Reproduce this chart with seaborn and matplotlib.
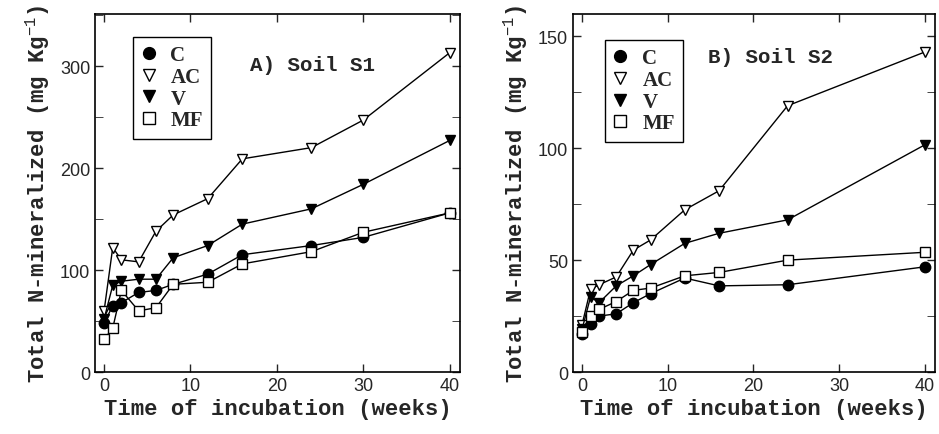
import numpy as np
import pandas as pd
import matplotlib
matplotlib.use('Agg')
import matplotlib.pyplot as plt
from matplotlib.ticker import MultipleLocator
from matplotlib.lines import Line2D
import seaborn as sns

# Data (mg N per kg soil)
weeks_s1 = [0, 1, 2, 4, 6, 8, 12, 16, 24, 30, 40]
s1_C = [48, 65, 68, 78, 80, 86, 96, 115, 124, 132, 156]
s1_AC = [60, 122, 110, 108, 138, 154, 170, 209, 220, 247, 313]
s1_V = [52, 85, 89, 91, 91, 112, 124, 145, 160, 184, 227]
s1_MF = [32, 43, 80, 60, 63, 86, 88, 106, 118, 137, 156]

weeks_s2 = [0, 1, 2, 4, 6, 8, 12, 16, 24, 40]
s2_C = [17, 21.5, 25, 26, 31, 35, 42, 38.5, 39, 47]
s2_AC = [21, 37, 39, 42.5, 54.5, 59, 72.5, 81, 119, 143]
s2_V = [19, 33.5, 31, 38.5, 43, 48, 57.5, 62, 68, 101.5]
s2_MF = [18, 25, 28, 31.5, 36.5, 37.5, 43, 44.5, 50, 53.5]

treatments = ["C", "AC", "V", "MF"]
panel_titles = ["A) Soil S1", "B) Soil S2"]

sns.set_style("ticks")
plt.rcParams.update({
    "xtick.direction": "in", "ytick.direction": "in",
    "xtick.top": True, "ytick.right": True,
    "xtick.major.size": 6, "ytick.major.size": 6,
    "ytick.minor.size": 6, "xtick.minor.size": 0,
    "axes.linewidth": 1.2, "axes.edgecolor": "black",
    "mathtext.fontset": "custom", "mathtext.rm": "Liberation Mono",
    "mathtext.it": "Liberation Mono", "mathtext.bf": "Liberation Mono:bold",
})
plt.rcParams['font.family'] = ['Liberation Sans', 'DejaVu Sans']

# marker style for each treatment: (marker, facecolor)
styles = {"C": ("o", "black"), "AC": ("v", "white"), "V": ("v", "black"), "MF": ("s", "white")}

fig, axes = plt.subplots(1, 2, figsize=(9.39, 4.35), dpi=100)
axes[0].set_position([0.1012, 0.1425, 0.3887, 0.823])
axes[1].set_position([0.6102, 0.1425, 0.3855, 0.823])

panels = [
    (weeks_s1, [s1_C, s1_AC, s1_V, s1_MF]),
    (weeks_s2, [s2_C, s2_AC, s2_V, s2_MF]),
]
legend_pos = [(0.104, 0.936), (0.088, 0.927)]

for ax, (weeks, series), anchor in zip(axes, panels, legend_pos):
    frames = [pd.DataFrame({"week": weeks, "N": vals, "trt": t}) for t, vals in zip(treatments, series)]
    df = pd.concat(frames)
    for t in treatments:
        m, fc = styles[t]
        sub = df[df["trt"] == t]
        sns.lineplot(data=sub, x="week", y="N", ax=ax, color="black", lw=1.0,
                     marker=m, markersize=7.5, markerfacecolor=fc,
                     markeredgecolor="black", markeredgewidth=1.0)

    handles = [Line2D([], [], ls="none", marker=styles[t][0], markersize=8.5,
                      markerfacecolor=styles[t][1], markeredgecolor="black") for t in treatments]
    leg = ax.legend(handles, treatments, loc="upper left", bbox_to_anchor=anchor,
                    borderaxespad=0, frameon=True, fancybox=False, edgecolor="black",
                    framealpha=1, handlelength=0.7, handletextpad=0.7, labelspacing=0.08,
                    borderpad=0.4, prop={"family": "Liberation Serif", "weight": "bold", "size": 15})
    leg.get_frame().set_linewidth(1.0)

    ax.set_xlim(-1.05, 41.2)
    ax.xaxis.set_major_locator(MultipleLocator(10))
    ax.set_xlabel("Time of incubation (weeks)", family="Liberation Mono",
                  fontweight="bold", fontsize=16, labelpad=3)
    ax.set_ylabel(r"Total N-mineralized (mg Kg$^{-1}$)", family="Liberation Mono",
                  fontweight="bold", fontsize=16, labelpad=6)
    ax.tick_params(labelsize=13, width=1.0)
    for lbl in ax.get_xticklabels() + ax.get_yticklabels():
        lbl.set_family("Liberation Sans")

axes[0].set_ylim(0, 351)
axes[0].yaxis.set_major_locator(MultipleLocator(100))
axes[0].yaxis.set_minor_locator(MultipleLocator(50))
axes[0].text(0.595, 0.86, panel_titles[0], transform=axes[0].transAxes, ha="center", va="center",
             family="Liberation Mono", fontweight="bold", fontsize=15)

axes[1].set_ylim(0, 160)
axes[1].yaxis.set_major_locator(MultipleLocator(50))
axes[1].yaxis.set_minor_locator(MultipleLocator(25))
axes[1].text(0.545, 0.88, panel_titles[1], transform=axes[1].transAxes, ha="center", va="center",
             family="Liberation Mono", fontweight="bold", fontsize=15)

fig.savefig("out.png", dpi=100, facecolor="white")
